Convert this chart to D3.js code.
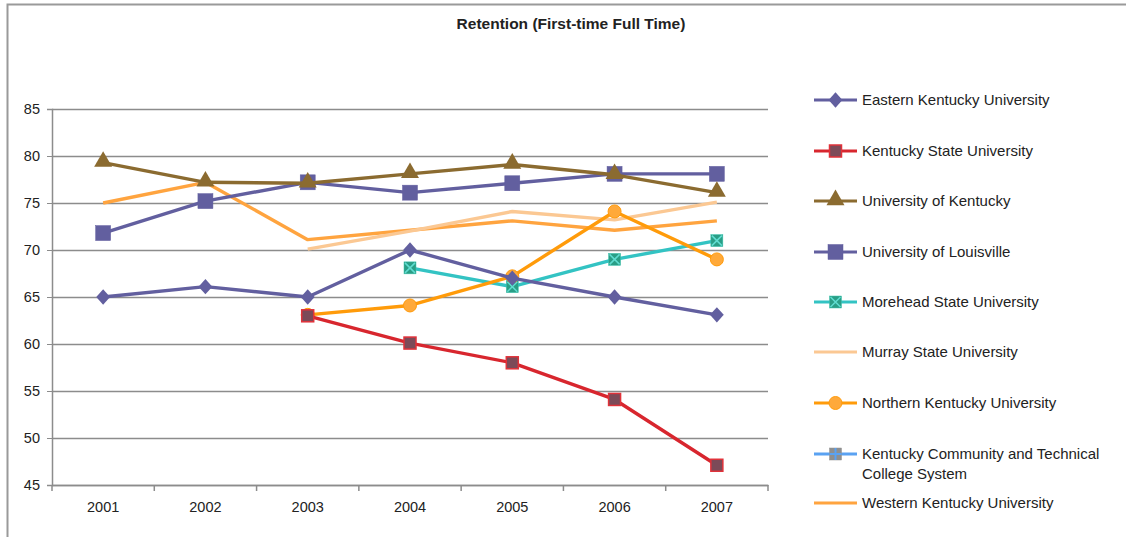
<!DOCTYPE html>
<html>
<head>
<meta charset="utf-8">
<script src="https://cdn.jsdelivr.net/npm/d3@7"></script>
<style>
  body { margin: 0; background: #fff; }
  text { font-family: "Liberation Sans", Arial, sans-serif; fill: #222; }
</style>
</head>
<body>
<div id="chart"></div>
<script>
// data
var years = ["2001", "2002", "2003", "2004", "2005", "2006", "2007"];
var yTicks = [45, 50, 55, 60, 65, 70, 75, 80, 85];

var eastern   = [65, 66.1, 65, 70, 67, 65, 63.1];
var kystate   = [null, null, 63, 60.1, 58, 54.1, 47.1];
var uk        = [79.3, 77.2, 77.1, 78.1, 79.1, 78, 76.1];
var louisville = [71.8, 75.2, 77.2, 76.1, 77.1, 78.1, 78.1];
var morehead  = [null, null, null, 68.1, 66.1, 69, 71];
var murray    = [null, null, 70.1, 72, 74.1, 73.2, 75.1];
var northern  = [null, null, 63.1, 64.1, 67.2, 74.1, 69];
var kctcs     = [null, null, null, null, null, null, null];
var western   = [75, 77.2, 71.1, 72.1, 73.1, 72.1, 73.1];

var series = [
    { name: ["Eastern Kentucky University"], values: eastern, color: "#625f9f", marker: "diamond", fill: "#625f9f", stroke: "#625f9f" },
    { name: ["Kentucky State University"], values: kystate, color: "#d8262e", marker: "square", fill: "#7c4a58", stroke: "#e0323a", size: 12 },
    { name: ["University of Kentucky"], values: uk, color: "#8b6b30", marker: "triangle", fill: "#8b6b30", stroke: "#8b6b30" },
    { name: ["University of Louisville"], values: louisville, color: "#625f9f", marker: "square", fill: "#625f9f", stroke: "#625f9f", size: 15 },
    { name: ["Morehead State University"], values: morehead, color: "#33c3c3", marker: "xsquare", fill: "#2a9e86", stroke: "#3cc6b0" },
    { name: ["Murray State University"], values: murray, color: "#fbc893", marker: null },
    { name: ["Northern Kentucky University"], values: northern, color: "#ff9b0a", marker: "circle", fill: "#ffa93a", stroke: "#ff9b0a" },
    { name: ["Kentucky Community and Technical", "College System"], values: kctcs, color: "#5aa2f2", marker: "plussquare", fill: "#8f8f8f", stroke: "#8f8f8f" },
    { name: ["Western Kentucky University"], values: western, color: "#ffa43f", marker: null }
];

var W = 1126, H = 537;
var margin = { top: 109, left: 52, right: 358, bottom: 52 };
var width = W - margin.left - margin.right,
    height = H - margin.top - margin.bottom;

var root = d3.select("#chart").append("svg")
    .attr("width", W)
    .attr("height", H);

// outer chart border
root.append("rect")
    .attr("x", 7.5).attr("y", 4.5)
    .attr("width", W + 10).attr("height", H + 10)
    .attr("fill", "none")
    .attr("stroke", "#9a9a9a")
    .attr("stroke-width", 2);

root.append("text")
    .attr("x", 571).attr("y", 29)
    .attr("text-anchor", "middle")
    .style("font-size", "15.5px")
    .style("font-weight", "bold")
    .text("Retention (First-time Full Time)");

var svg = root.append("g")
    .attr("transform", "translate(" + margin.left + "," + margin.top + ")");

var x = d3.scaleBand().domain(years).range([0, width]);
var y = d3.scaleLinear().domain([45, 85]).range([height, 0]);

// gridlines
svg.append("g")
    .call(d3.axisLeft(y).tickValues(yTicks).tickSize(-width).tickFormat(""))
    .call(g => g.select(".domain").remove())
    .call(g => g.selectAll("line").attr("stroke", "#8c8c8c").attr("stroke-width", 1.5));

// y axis
svg.append("g")
    .call(d3.axisLeft(y).tickValues(yTicks).tickSize(5).tickPadding(7))
    .call(g => g.select(".domain").attr("stroke", "#8c8c8c").attr("stroke-width", 1.5))
    .call(g => g.selectAll("line").attr("stroke", "#8c8c8c"))
    .call(g => g.selectAll("text").style("font-size", "14.5px").attr("fill", "#222"));

// x axis with ticks at the category edges
var xAxis = svg.append("g")
    .attr("transform", "translate(0," + height + ")")
    .call(d3.axisBottom(x).tickSize(0).tickPadding(17))
    .call(g => g.select(".domain").attr("stroke", "#8c8c8c").attr("stroke-width", 1.5))
    .call(g => g.selectAll("text").style("font-size", "14.5px").attr("fill", "#222"));

xAxis.selectAll(".edge")
    .data(d3.range(years.length + 1))
    .enter()
    .append("line")
    .attr("x1", d => d * x.bandwidth())
    .attr("x2", d => d * x.bandwidth())
    .attr("y1", 0).attr("y2", 6)
    .attr("stroke", "#8c8c8c")
    .attr("stroke-width", 1.5);

var cx = function (i) { return x(years[i]) + x.bandwidth() / 2; };

function drawMarker(g, s, px, py) {
    var size = s.size || 12;
    if (s.marker === "diamond") {
        g.append("path")
            .attr("d", d3.symbol(d3.symbolDiamond2, 150)())
            .attr("transform", "translate(" + px + "," + py + ") scale(0.9,1)")
            .attr("fill", s.fill);
    } else if (s.marker === "square" || s.marker === "xsquare" || s.marker === "plussquare") {
        g.append("rect")
            .attr("x", px - size / 2).attr("y", py - size / 2)
            .attr("width", size).attr("height", size)
            .attr("fill", s.fill)
            .attr("stroke", s.stroke)
            .attr("stroke-width", s.marker === "square" && s.size === 12 ? 1.5 : 0.5);
        if (s.marker === "xsquare") {
            g.append("path")
                .attr("d", "M" + (px - 5) + "," + (py - 5) + "L" + (px + 5) + "," + (py + 5) +
                    "M" + (px + 5) + "," + (py - 5) + "L" + (px - 5) + "," + (py + 5))
                .attr("stroke", "#5fdcd0").attr("stroke-width", 1.5);
        }
        if (s.marker === "plussquare") {
            g.append("path")
                .attr("d", "M" + px + "," + (py - size / 2) + "V" + (py + size / 2) +
                    "M" + (px - size / 2) + "," + py + "H" + (px + size / 2))
                .attr("stroke", s.color).attr("stroke-width", 2);
        }
    } else if (s.marker === "triangle") {
        g.append("path")
            .attr("d", d3.symbol(d3.symbolTriangle, 140)())
            .attr("transform", "translate(" + px + "," + (py - 1) + ")")
            .attr("fill", s.fill);
    } else if (s.marker === "circle") {
        g.append("circle")
            .attr("cx", px).attr("cy", py).attr("r", 6.5)
            .attr("fill", s.fill)
            .attr("stroke", s.stroke)
            .attr("stroke-width", 1);
    }
}

var line = d3.line()
    .defined(d => d.v !== null)
    .x(d => cx(d.i))
    .y(d => y(d.v));

// draw series (first series on top like in the picture)
var order = [8, 5, 7, 4, 6, 1, 3, 2, 0];
order.forEach(function (k) {
    var s = series[k];
    var pts = s.values.map((v, i) => ({ v: v, i: i }));
    var g = svg.append("g");
    g.append("path")
        .datum(pts)
        .attr("fill", "none")
        .attr("stroke", s.color)
        .attr("stroke-width", 3.4)
        .attr("stroke-linejoin", "round")
        .attr("d", line);
    if (s.marker) {
        pts.filter(d => d.v !== null).forEach(function (d) {
            drawMarker(g, s, cx(d.i), y(d.v));
        });
    }
});

// legend
var legendY = [100, 151, 201, 252, 302, 352, 403, 454, 503];
var legend = root.append("g");
series.forEach(function (s, k) {
    var g = legend.append("g").attr("transform", "translate(0," + legendY[k] + ")");
    g.append("line")
        .attr("x1", 814).attr("x2", 857)
        .attr("y1", 0).attr("y2", 0)
        .attr("stroke", s.color)
        .attr("stroke-width", 3.2);
    if (s.marker) drawMarker(g, s, 835.5, 0);
    s.name.forEach(function (t, j) {
        g.append("text")
            .attr("x", 862)
            .attr("y", j * 20)
            .attr("dy", "0.35em")
            .style("font-size", "15px")
            .text(t);
    });
});
</script>
</body>
</html>
